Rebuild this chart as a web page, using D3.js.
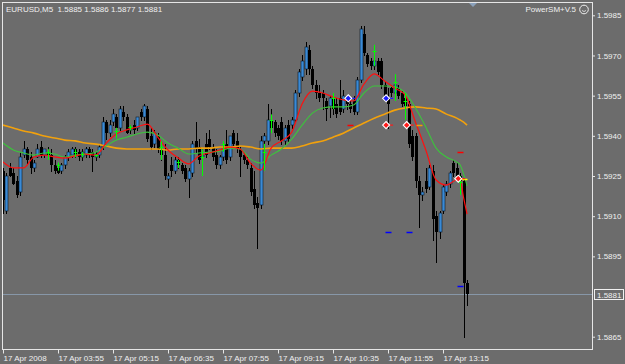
<!DOCTYPE html>
<html>
<head>
<meta charset="utf-8">
<script src="https://d3js.org/d3.v7.min.js"></script>
<style>
  body { margin: 0; background: #6c6c6c; }
  svg { display: block; }
  text { font-family: "Liberation Sans", Arial, sans-serif; font-size: 8px; fill: #f0f0f0; }
</style>
</head>
<body>
<script>
  // EURUSD M5, 17 Apr 2008, first bar 02:35, one bar every 5 minutes
  var opens = [1.5927,1.5912,1.5928,1.5926,1.5923,1.5919,1.5933,1.5935,1.5932,1.5928,
    1.5932,1.5936,1.5933,1.5934,1.5933,1.5929,1.5928,1.5927,1.5929,1.5932,
    1.5933,1.5935,1.5934,1.5932,1.5933,1.5935,1.5934,1.5932,1.5933,1.5936,
    1.5945,1.5941,1.5945,1.5947,1.5943,1.5949,1.5947,1.5942,1.5944,1.5943,
    1.5949,1.5947,1.5950,1.5940,1.5937,1.5940,1.5935,1.5933,1.5924,1.5929,
    1.5927,1.5931,1.5929,1.5928,1.5924,1.5926,1.5938,1.5936,1.5932,1.5937,
    1.5939,1.5936,1.5933,1.5929,1.5932,1.5937,1.5932,1.5941,1.5938,1.5935,
    1.5933,1.5931,1.5928,1.5920,1.5915,1.5914,1.5938,1.5938,1.5946,1.5945,
    1.5943,1.5945,1.5938,1.5944,1.5944,1.5946,1.5956,1.5962,1.5965,1.5972,
    1.5965,1.5959,1.5956,1.5956,1.5953,1.5951,1.5954,1.5952,1.5954,1.5950,
    1.5954,1.5952,1.5953,1.5949,1.5961,1.5978,1.5970,1.5968,1.5966,1.5968,
    1.5968,1.5959,1.5954,1.5958,1.5956,1.5958,1.5956,1.5954,1.5952,1.5940,
    1.5940,1.5923,1.5918,1.5923,1.5921,1.5927,1.5910,1.5904,1.5912,1.5919,
    1.5922,1.5930,1.5928,1.5925,1.5923,1.5885];
  var highs = [1.5928,1.5926,1.5930,1.5928,1.5925,1.5934,1.5938,1.5936,1.5934,1.5931,
    1.5937,1.5938,1.5935,1.5936,1.5935,1.5931,1.5929,1.5930,1.5933,1.5935,
    1.5936,1.5936,1.5935,1.5935,1.5936,1.5936,1.5935,1.5934,1.5937,1.5947,
    1.5946,1.5946,1.5950,1.5948,1.5951,1.5951,1.5948,1.5944,1.5946,1.5947,
    1.5950,1.5952,1.5951,1.5943,1.5942,1.5941,1.5937,1.5937,1.5926,1.5932,
    1.5932,1.5932,1.5930,1.5929,1.5928,1.5938,1.5945,1.5939,1.5935,1.5941,
    1.5942,1.5937,1.5935,1.5933,1.5937,1.5942,1.5940,1.5942,1.5941,1.5936,
    1.5934,1.5932,1.5930,1.5927,1.5917,1.5940,1.5941,1.5952,1.5950,1.5946,
    1.5944,1.5947,1.5944,1.5946,1.5947,1.5957,1.5965,1.5970,1.5975,1.5974,
    1.5966,1.5961,1.5959,1.5957,1.5954,1.5955,1.5955,1.5954,1.5961,1.5957,
    1.5955,1.5953,1.5955,1.5962,1.5981,1.5981,1.5971,1.5969,1.5969,1.5969,
    1.5969,1.5960,1.5958,1.5959,1.5961,1.5959,1.5957,1.5956,1.5953,1.5942,
    1.5941,1.5925,1.5921,1.5928,1.5929,1.5929,1.5912,1.5912,1.5922,1.5923,
    1.5927,1.5931,1.5930,1.5926,1.5924,1.5886];
  var lows = [1.5911,1.5911,1.5925,1.5922,1.5917,1.5918,1.5932,1.5930,1.5926,1.5927,
    1.5932,1.5932,1.5932,1.5932,1.5927,1.5926,1.5926,1.5926,1.5928,1.5931,
    1.5932,1.5932,1.5931,1.5931,1.5932,1.5932,1.5927,1.5931,1.5932,1.5935,
    1.5939,1.5940,1.5944,1.5942,1.5942,1.5946,1.5941,1.5941,1.5941,1.5942,
    1.5946,1.5946,1.5938,1.5935,1.5936,1.5934,1.5931,1.5924,1.5921,1.5925,
    1.5926,1.5928,1.5926,1.5923,1.5917,1.5925,1.5934,1.5930,1.5930,1.5932,
    1.5935,1.5931,1.5928,1.5928,1.5931,1.5930,1.5931,1.5936,1.5934,1.5925,
    1.5930,1.5928,1.5918,1.5913,1.5898,1.5913,1.5935,1.5937,1.5942,1.5940,
    1.5939,1.5937,1.5937,1.5938,1.5943,1.5945,1.5955,1.5961,1.5963,1.5963,
    1.5958,1.5954,1.5953,1.5950,1.5946,1.5947,1.5948,1.5947,1.5948,1.5949,
    1.5950,1.5949,1.5948,1.5948,1.5960,1.5970,1.5966,1.5965,1.5965,1.5963,
    1.5958,1.5953,1.5943,1.5955,1.5955,1.5954,1.5951,1.5950,1.5936,1.5931,
    1.5921,1.5906,1.5916,1.5919,1.5920,1.5901,1.5893,1.5902,1.5911,1.5918,
    1.5921,1.5925,1.5923,1.5922,1.5865,1.5877];
  var closes = [1.5916,1.5925,1.5925,1.5922,1.5918,1.5932,1.5935,1.5931,1.5928,1.5930,
    1.5935,1.5933,1.5935,1.5933,1.5929,1.5927,1.5926,1.5929,1.5932,1.5934,
    1.5935,1.5933,1.5932,1.5934,1.5935,1.5933,1.5932,1.5933,1.5936,1.5945,
    1.5941,1.5944,1.5948,1.5943,1.5950,1.5947,1.5941,1.5943,1.5942,1.5947,
    1.5947,1.5951,1.5939,1.5936,1.5941,1.5935,1.5933,1.5925,1.5925,1.5927,
    1.5931,1.5929,1.5927,1.5924,1.5927,1.5937,1.5935,1.5931,1.5933,1.5933,
    1.5936,1.5932,1.5929,1.5932,1.5935,1.5931,1.5940,1.5937,1.5935,1.5932,
    1.5931,1.5929,1.5919,1.5914,1.5913,1.5938,1.5940,1.5946,1.5943,1.5941,
    1.5940,1.5938,1.5943,1.5939,1.5946,1.5956,1.5964,1.5968,1.5973,1.5965,
    1.5959,1.5956,1.5954,1.5954,1.5950,1.5954,1.5950,1.5948,1.5949,1.5955,
    1.5952,1.5950,1.5949,1.5961,1.5980,1.5971,1.5967,1.5966,1.5968,1.5964,
    1.5959,1.5954,1.5952,1.5956,1.5959,1.5955,1.5952,1.5951,1.5937,1.5932,
    1.5923,1.5918,1.5919,1.5920,1.5928,1.5909,1.5904,1.5911,1.5921,1.5922,
    1.5926,1.5926,1.5925,1.5923,1.5885,1.5881];

  // moving averages at these bars
  var maBars = [0,3,6,9,12,15,18,21,24,27,30,33,36,39,42,45,48,51,54,57,
    60,63,66,69,72,75,78,81,84,87,90,93,96,99,102,105,108,111,114,117,
    120,123,126,129,132,133,134,135];
  var maFast = [1.59302,1.59280,1.59280,1.59321,1.59328,1.59321,1.59317,1.59325,1.59332,1.59328,
    1.59373,1.59407,1.59422,1.59433,1.59444,1.59395,1.59347,1.59317,1.59295,1.59325,
    1.59336,1.59347,1.59358,1.59351,1.59298,1.59272,1.59354,1.59381,1.59414,1.59519,
    1.59567,1.59560,1.59545,1.59534,1.59530,1.59593,1.59631,1.59605,1.59578,1.59552,
    1.59451,1.59347,1.59235,1.59216,1.59235,1.59235,1.59168,1.59108];
  var maMid = [1.59373,1.59347,1.59336,1.59328,1.59336,1.59332,1.59321,1.59328,1.59332,1.59339,
    1.59362,1.59384,1.59395,1.59407,1.59414,1.59403,1.59373,1.59354,1.59332,1.59336,
    1.59339,1.59343,1.59354,1.59351,1.59313,1.59298,1.59328,1.59351,1.59388,1.59440,
    1.59485,1.59504,1.59508,1.59508,1.59515,1.59560,1.59586,1.59586,1.59582,1.59560,
    1.59504,1.59433,1.59354,1.59321,1.59302,1.59291,1.59257,1.59213];
  var maSlow = [1.59440,1.59429,1.59418,1.59410,1.59399,1.59392,1.59384,1.59381,1.59373,1.59369,
    1.59362,1.59354,1.59351,1.59351,1.59351,1.59351,1.59347,1.59351,1.59351,1.59354,
    1.59354,1.59358,1.59358,1.59362,1.59358,1.59351,1.59354,1.59354,1.59354,1.59362,
    1.59373,1.59381,1.59395,1.59410,1.59429,1.59448,1.59466,1.59481,1.59496,1.59504,
    1.59508,1.59504,1.59500,1.59481,1.59466,1.59459,1.59451,1.59440];

  // green signal bars: bar, top, bottom
  var sigBars = [13,16,21,23,27,33,37,46,51,58,64,76,78,96,108,114,117,133];
  var sigTop = [1.5935,1.5930,1.5935,1.5934,1.5933,1.5943,1.5944,1.5938,1.5931,1.5935,
    1.5938,1.5937,1.5948,1.5956,1.5974,1.5963,1.5956,1.5925];
  var sigBottom = [1.5931,1.5927,1.5932,1.5932,1.5932,1.5939,1.5942,1.5931,1.5928,1.5925,
    1.5934,1.5927,1.5941,1.5950,1.5966,1.5953,1.5946,1.5918];

  // arrows and level dashes
  var buyBars = [100,111], buyPrices = [1.5954,1.5954];
  var sellBars = [111,117,132], sellPrices = [1.5944,1.5944,1.5924];
  var dashBars = [101,133,121,134,112,118,133];
  var dashPrices = [1.5944,1.5934,1.5944,1.5924,1.5904,1.5904,1.5884];
  var dashColors = ["#ff0000","#ff0000","#f0a000","#ffff00","#0000ff","#0000ff","#0000ff"];

  var labelBars = [0,16,32,48,64,80,96,112,128];
  var timeLabels = ["17 Apr 2008","17 Apr 03:55","17 Apr 05:15","17 Apr 06:35","17 Apr 07:55",
    "17 Apr 09:15","17 Apr 10:35","17 Apr 11:55","17 Apr 13:15"];
  var priceTicks = [1.5985,1.5970,1.5955,1.5940,1.5925,1.5910,1.5895,1.5865];
  var bid = 1.5881;

  var W = 625, H = 364;
  var pL = 3, pT = 3, pR = 592, pB = 350;

  var svg = d3.select("body").append("svg").attr("width", W).attr("height", H);
  svg.append("rect").attr("width", W).attr("height", H).attr("fill", "#6c6c6c");

  var x = d3.scaleLinear().domain([0, 128]).range([3, 443]);
  var y = d3.scaleLinear().domain([1.5865, 1.5985]).range([336.7, 15.3]);
  var px = function(i){ return Math.round(x(i)) + 0.5; };

  svg.append("clipPath").attr("id", "plot")
    .append("rect").attr("x", pL).attr("y", pT)
    .attr("width", pR - pL).attr("height", pB - pT);

  var plot = svg.append("g").attr("clip-path", "url(#plot)");

  // bid line
  plot.append("line")
    .attr("x1", pL).attr("x2", pR)
    .attr("y1", Math.round(y(bid)) + 0.5).attr("y2", Math.round(y(bid)) + 0.5)
    .attr("stroke", "#8797a8");

  var bars = d3.range(opens.length);
  var bodyTop = function(i){ return Math.round(y(Math.max(opens[i], closes[i]))); };
  var bodyH = function(i){
    return Math.max(1, Math.round(y(Math.min(opens[i], closes[i]))) - bodyTop(i));
  };

  // wicks
  plot.selectAll(".wick").data(bars).enter().append("line")
    .attr("class", "wick")
    .attr("x1", px).attr("x2", px)
    .attr("y1", function(i){ return Math.round(y(highs[i])); })
    .attr("y2", function(i){ return Math.round(y(lows[i])) + 1; })
    .attr("stroke", "#000");

  // bodies
  plot.selectAll(".body").data(bars).enter().append("rect")
    .attr("class", "body")
    .attr("x", function(i){ return px(i) - 1.5; })
    .attr("width", 3)
    .attr("y", bodyTop)
    .attr("height", bodyH)
    .attr("fill", function(i){ return closes[i] > opens[i] ? "#3a8ad6" : "#000"; })
    .attr("stroke", function(i){ return closes[i] > opens[i] ? "#0b1826" : "none"; })
    .attr("stroke-width", 0.6);

  // moving averages
  function maLine(vals, color, width) {
    var line = d3.line()
      .x(function(d, k){ return x(maBars[k]); })
      .y(function(d){ return y(d); })
      .curve(d3.curveMonotoneX);
    plot.append("path").datum(vals)
      .attr("d", line)
      .attr("fill", "none")
      .attr("stroke", color)
      .attr("stroke-width", width);
  }
  maLine(maSlow, "#f2a10c", 1.6);
  maLine(maMid, "#3cc43c", 1.1);
  maLine(maFast, "#ff1010", 1.2);

  // green signal crosses
  var sig = plot.selectAll(".sig").data(sigBars).enter().append("g").attr("class", "sig");
  sig.append("line")
    .attr("x1", function(d){ return px(d); }).attr("x2", function(d){ return px(d); })
    .attr("y1", function(d, k){ return y(sigTop[k]); })
    .attr("y2", function(d, k){ return y(sigBottom[k]); })
    .attr("stroke", "#00ff00").attr("stroke-width", 1);
  sig.append("line")
    .attr("x1", function(d){ return px(d) - 2; }).attr("x2", function(d){ return px(d) + 2; })
    .attr("y1", function(d, k){ return Math.round(y(sigTop[k]) + (y(sigBottom[k]) - y(sigTop[k])) * 0.3) + 0.5; })
    .attr("y2", function(d, k){ return Math.round(y(sigTop[k]) + (y(sigBottom[k]) - y(sigTop[k])) * 0.3) + 0.5; })
    .attr("stroke", "#00ff00").attr("stroke-width", 1);

  // level dashes
  plot.selectAll(".dash").data(dashBars).enter().append("line")
    .attr("x1", function(d){ return px(d) - 3; })
    .attr("x2", function(d){ return px(d) + 3; })
    .attr("y1", function(d, k){ return Math.round(y(dashPrices[k])) + 0.5; })
    .attr("y2", function(d, k){ return Math.round(y(dashPrices[k])) + 0.5; })
    .attr("stroke", function(d, k){ return dashColors[k]; })
    .attr("stroke-width", 1.5);

  // arrows
  function arrows(barList, prices, color) {
    var g = plot.selectAll(null).data(barList).enter().append("g")
      .attr("transform", function(d, k){ return "translate(" + (x(d) + 1.5) + "," + y(prices[k]) + ")"; });
    g.append("line").attr("x1", 2).attr("x2", 7).attr("y1", 0).attr("y2", 0)
      .attr("stroke", color).attr("stroke-width", 1.2);
    g.append("path").attr("d", "M-3.5,0L0,-3.5L3.5,0L0,3.5Z")
      .attr("fill", color).attr("stroke", "#fff").attr("stroke-width", 1.1);
  }
  arrows(buyBars, buyPrices, "#1a1aff");
  arrows(sellBars, sellPrices, "#ff1a1a");

  // frame
  svg.append("rect")
    .attr("x", pL - 0.5).attr("y", pT - 0.5)
    .attr("width", pR - pL + 1).attr("height", pB - pT)
    .attr("fill", "none").attr("stroke", "#e6e6e6");

  // price axis
  var yAxis = d3.axisRight(y).tickValues(priceTicks).tickFormat(d3.format(".4f")).tickSize(3).tickPadding(2);
  var gy = svg.append("g").attr("transform", "translate(" + pR + ",0)").call(yAxis);
  gy.select(".domain").remove();
  gy.selectAll("line").attr("stroke", "#e6e6e6");

  // time axis
  var xAxis = d3.axisBottom(x).tickValues(labelBars)
    .tickFormat(function(d, k){ return timeLabels[k]; }).tickSize(4).tickPadding(2);
  var gx = svg.append("g").attr("transform", "translate(0," + (pB - 0.5) + ")").call(xAxis);
  gx.select(".domain").remove();
  gx.selectAll("line").attr("stroke", "#e6e6e6");
  gx.selectAll("text").attr("text-anchor", "start").attr("x", 0);

  // bid label
  var by = Math.round(y(bid)) + 0.5;
  svg.append("rect").attr("x", 594.5).attr("y", by - 5).attr("width", 29).attr("height", 10)
    .attr("fill", "#6c6c6c").attr("stroke", "#f0f0f0");
  svg.append("text").attr("x", 597).attr("y", by + 3).text(d3.format(".4f")(bid));

  // header
  var last = opens.length - 1;
  var f4 = d3.format(".4f");
  svg.append("text").attr("x", 6).attr("y", 12).style("white-space", "pre")
    .text("EURUSD,M5  " + f4(opens[last]) + " " + f4(highs[last]) + " " + f4(lows[last]) + " " + f4(closes[last]));
  svg.append("text").attr("x", 576).attr("y", 12).attr("text-anchor", "end").text("PowerSM+V.5");
  svg.append("circle").attr("cx", 584).attr("cy", 9.5).attr("r", 4.3)
    .attr("fill", "none").attr("stroke", "#f0f0f0");
  svg.append("path").attr("d", "M582,10.5Q584,12.5 586,10.5")
    .attr("fill", "none").attr("stroke", "#f0f0f0").attr("stroke-width", 0.8);

  // shift marker
  svg.append("path").attr("d", "M469,3L477,3L473,7Z").attr("fill", "#8aa0ba");
</script>
</body>
</html>
